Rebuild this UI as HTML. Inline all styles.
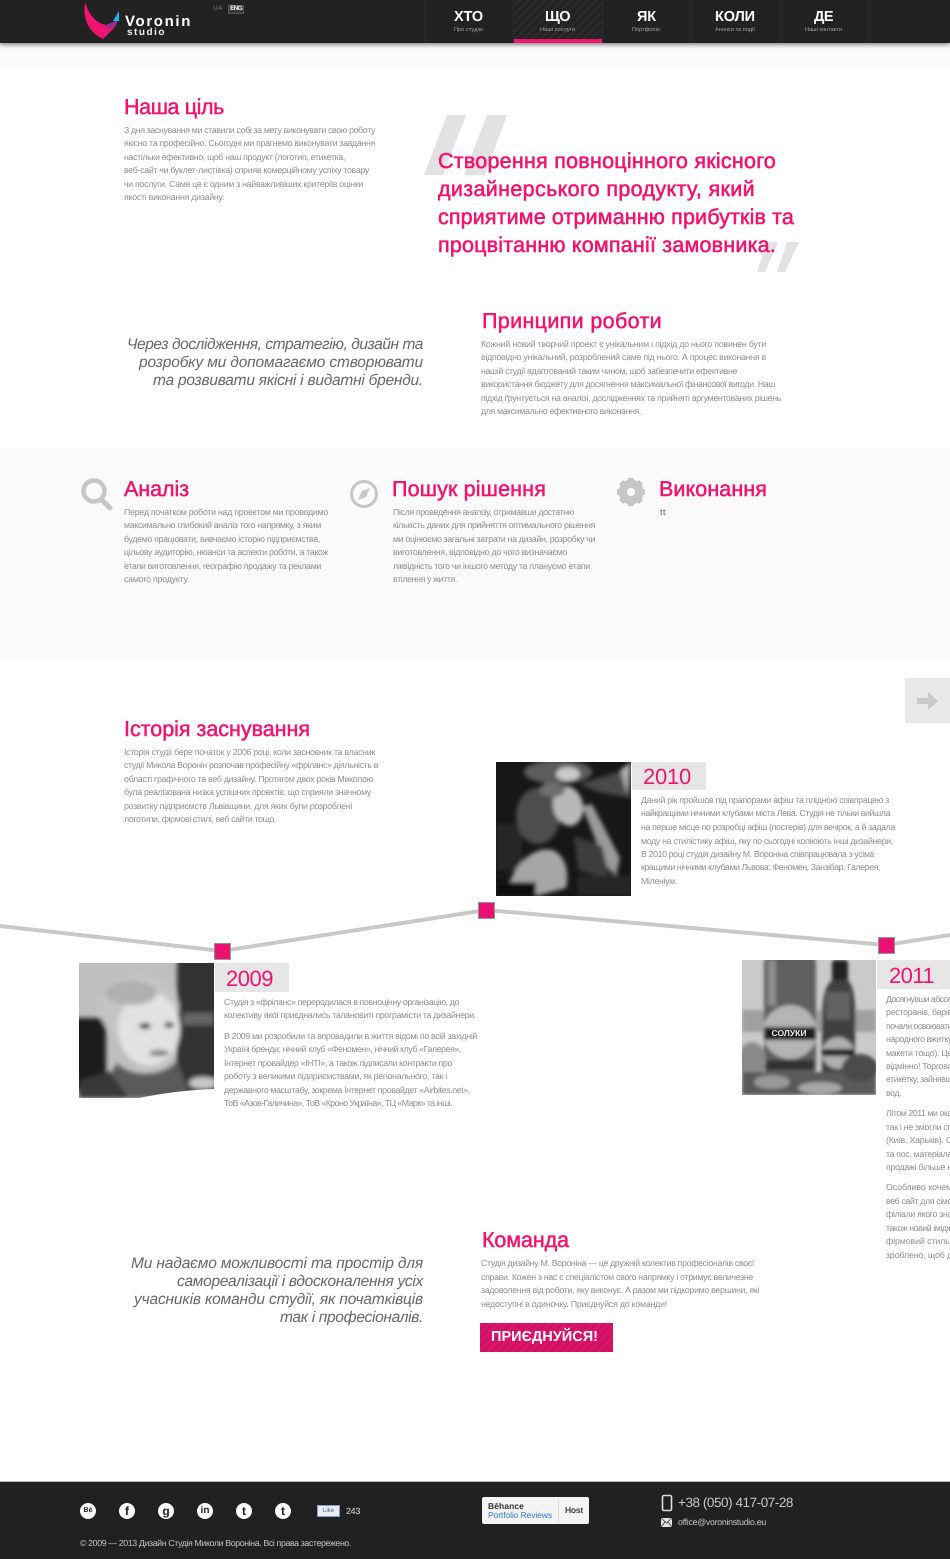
<!DOCTYPE html>
<html lang="uk">
<head>
<meta charset="utf-8">
<title>Voronin Studio</title>
<style>
html,body{margin:0;padding:0;background:#fff}
body{position:relative;width:950px;height:1559px;overflow:hidden;font-family:"Liberation Sans","DejaVu Sans",sans-serif;text-rendering:geometricPrecision}
.l{position:absolute;display:block;white-space:nowrap;line-height:16px;height:16px}
.b{font-size:8.8px;color:#8f8f8f}
.h{font-size:21.5px;color:#f5126f;-webkit-text-stroke:.5px #f5126f;line-height:26px;height:26px}
.q{font-size:21.5px;color:#f5126f;-webkit-text-stroke:.55px #f5126f;line-height:26px;height:26px}
.i{font-size:15.5px;font-style:italic;color:#686868;line-height:20px;height:20px}
.y{font-size:22px;color:#f5126f;line-height:28px;height:28px}
.abs{position:absolute;display:block}
.bg{position:absolute;left:0;width:950px}
.navb{font-size:14.5px;font-weight:bold;color:#fff}
.navs{font-size:5.5px;color:#aaa}
.f{color:#c4c4c4}
.sep{position:absolute;top:0;width:1px;height:43px;background:#2c2c2c}
.soc{position:absolute;top:1503px;width:16px;height:16px;border-radius:50%;background:#fff;color:#222;font-size:10px;font-weight:bold;line-height:16px;text-align:center}
.yb{position:absolute;background:#e6e6e6}
.m{position:absolute}
</style>
</head>
<body>

<div class="bg" style="top:43px;height:22px;background:#fafafa"></div>
<div class="bg" style="top:449px;height:210px;background:#fafafa"></div>

<header class="bg" style="top:0;height:43px;background:#222;box-shadow:0 2px 4px rgba(0,0,0,.45);z-index:2">
  <svg class="abs" style="left:80px;top:0" width="45" height="43">
    <path d="M5 2C2 20 10 33 23 39L35 27L26 25C16 23 9 15 5 2Z" fill="#ee1470"/>
    <path d="M26 25L38 20L35 27L27 29Z" fill="#9c2c94"/>
    <path d="M33 21L39 11L39 21Z" fill="#1db4e8"/>
  </svg>
  <span class="l" style="left:125px;top:14px;width:67px;font-size:15px;font-weight:bold;color:#fff">Voronin</span>
  <span class="l" style="left:127px;top:25px;width:39px;font-size:10px;font-weight:bold;color:#eee">studio</span>
  <span class="l" style="left:213px;top:1px;width:10px;font-size:6.5px;color:#777">UA</span>
  <span class="abs" style="left:228px;top:5px;width:16px;height:9px;background:#3a3a3a;border:0;outline:1px solid #555;outline-offset:-1px"></span>
  <span class="l" style="left:230px;top:1px;width:12px;font-size:6.5px;font-weight:bold;color:#eee">ENG</span>

  <div class="abs" style="left:514px;top:0;width:89px;height:43px;background:repeating-linear-gradient(135deg,#222 0 3px,#2a2a2a 3px 6px)"></div>
  <div class="abs" style="left:514px;top:39px;width:89px;height:4px;background:#ee1470"></div>
  <i class="sep" style="left:424px"></i><i class="sep" style="left:513px"></i><i class="sep" style="left:602px"></i><i class="sep" style="left:691px"></i><i class="sep" style="left:780px"></i><i class="sep" style="left:868px"></i>

  <nav>
    <a><span class="l navb" style="left:454px;top:9px;width:29px">ХТО</span><span class="l navs" style="left:454px;top:22px;width:29px">Про студію</span></a>
    <a><span class="l navb" style="left:545px;top:9px;width:25px">ЩО</span><span class="l navs" style="left:540px;top:22px;width:35px">Наші послуги</span></a>
    <a><span class="l navb" style="left:637px;top:9px;width:19px">ЯК</span><span class="l navs" style="left:632px;top:22px;width:28px">Портфоліо</span></a>
    <a><span class="l navb" style="left:715px;top:9px;width:40px">КОЛИ</span><span class="l navs" style="left:715px;top:22px;width:40px">Анонси та події</span></a>
    <a><span class="l navb" style="left:814px;top:9px;width:19px">ДЕ</span><span class="l navs" style="left:805px;top:22px;width:37px">Наші контакти</span></a>
  </nav>
</header>

<section>
  <h2 style="margin:0;font-weight:normal"><span class="l h" style="left:124px;top:94px;width:100px">Наша ціль</span></h2>
  <div>
    <span class="l b" style="left:124px;top:122px;width:251px">З дня заснування ми ставили собі за мету виконувати свою роботу</span>
    <span class="l b" style="left:124px;top:135px;width:251px">якісно та професійно. Сьогодні ми прагнемо виконувати завдання</span>
    <span class="l b" style="left:124px;top:149px;width:221px">настільки ефективно, щоб наш продукт (логотип, етикетка,</span>
    <span class="l b" style="left:124px;top:162px;width:245px">веб-сайт чи буклет-листівка) сприяв комерційному успіху товару</span>
    <span class="l b" style="left:124px;top:176px;width:239px">чи послуги. Саме це є одним з найважливіших критеріїв оцінки</span>
    <span class="l b" style="left:124px;top:189px;width:100px">якості виконання дизайну.</span>
  </div>
  <svg class="abs" style="left:420px;top:110px" width="385" height="170">
    <g fill="#e2e2e2">
      <polygon points="27,5 46,5 23,65 4,65"/>
      <polygon points="67,5 87,5 65,65 44,65"/>
      <polygon points="347,132 358,132 345,162 337,162"/>
      <polygon points="367,132 379,132 365,162 357,162"/>
    </g>
  </svg>
  <blockquote style="margin:0">
    <span class="l q" style="left:438px;top:148px;width:338px">Створення повноцінного якісного</span>
    <span class="l q" style="left:438px;top:176px;width:317px">дизайнерського продукту, який</span>
    <span class="l q" style="left:438px;top:204px;width:356px">сприятиме отриманню прибутків та</span>
    <span class="l q" style="left:438px;top:232px;width:338px">процвітанню компанії замовника.</span>
  </blockquote>
</section>

<section>
  <div>
    <span class="l i" style="left:127px;top:335px;width:296px">Через дослідження, стратегію, дизайн та</span>
    <span class="l i" style="left:139px;top:353px;width:284px">розробку ми допомагаємо створювати</span>
    <span class="l i" style="left:153px;top:371px;width:270px">та розвивати якісні і видатні бренди.</span>
  </div>
  <h2 style="margin:0;font-weight:normal"><span class="l h" style="left:482px;top:308px;width:180px">Принципи роботи</span></h2>
  <div>
    <span class="l b" style="left:481px;top:336px;width:285px">Кожний новий творчий проект є унікальним і підхід до нього повинен бути</span>
    <span class="l b" style="left:481px;top:349px;width:285px">відповідно унікальний, розроблений саме під нього. А процес виконання в</span>
    <span class="l b" style="left:481px;top:363px;width:256px">нашій студії адаптований таким чином, щоб забезпечити ефективне</span>
    <span class="l b" style="left:481px;top:376px;width:294px">використання бюджету для досягнення максимальної фінансової вигоди. Наш</span>
    <span class="l b" style="left:481px;top:390px;width:300px">підхід ґрунтується на аналізі, дослідженнях та прийняті аргументованих рішень</span>
    <span class="l b" style="left:481px;top:403px;width:160px">для максимально ефективного виконання.</span>
  </div>
</section>

<section>
  <svg class="abs" style="left:78px;top:476px" width="40" height="40">
    <circle cx="16" cy="15" r="10.5" fill="none" stroke="#c6c6c6" stroke-width="4.5"/>
    <line x1="24" y1="24" x2="32" y2="32" stroke="#c6c6c6" stroke-width="5" stroke-linecap="round"/>
  </svg>
  <h3 style="margin:0;font-weight:normal"><span class="l h" style="left:124px;top:476px;width:65px">Аналіз</span></h3>
  <div>
    <span class="l b" style="left:124px;top:504px;width:204px">Перед початком роботи над проектом ми проводимо</span>
    <span class="l b" style="left:124px;top:517px;width:197px">максимально глибокий аналіз того напрямку, з яким</span>
    <span class="l b" style="left:124px;top:531px;width:196px">будемо працювати, вивчаємо історію підприємства,</span>
    <span class="l b" style="left:124px;top:544px;width:204px">цільову аудиторію, нюанси та аспекти роботи, а також</span>
    <span class="l b" style="left:124px;top:558px;width:197px">етапи виготовлення, географію продажу та реклами</span>
    <span class="l b" style="left:124px;top:571px;width:65px">самого продукту.</span>
  </div>

  <svg class="abs" style="left:348px;top:478px" width="32" height="32">
    <circle cx="16" cy="16" r="12.5" fill="none" stroke="#c6c6c6" stroke-width="3"/>
    <polygon points="22,10 18,19 10,22 14,13" fill="#c6c6c6"/>
  </svg>
  <h3 style="margin:0;font-weight:normal"><span class="l h" style="left:392px;top:476px;width:154px">Пошук рішення</span></h3>
  <div>
    <span class="l b" style="left:393px;top:504px;width:181px">Після проведення аналізу, отримавши достатню</span>
    <span class="l b" style="left:393px;top:517px;width:202px">кількість даних для прийняття оптимального рішення</span>
    <span class="l b" style="left:393px;top:531px;width:202px">ми оцінюємо загальні затрати на дизайн, розробку чи</span>
    <span class="l b" style="left:393px;top:544px;width:174px">виготовлення, відповідно до чого визначаємо</span>
    <span class="l b" style="left:393px;top:558px;width:197px">ліквідність того чи іншого методу та плануємо етапи</span>
    <span class="l b" style="left:393px;top:571px;width:64px">втілення у життя.</span>
  </div>

  <svg class="abs" style="left:615px;top:476px" width="32" height="32">
    <circle cx="16" cy="16" r="9.5" fill="none" stroke="#c6c6c6" stroke-width="6"/>
    <g stroke="#c6c6c6" stroke-width="5.5">
      <line x1="16" y1="2" x2="16" y2="30"/>
      <line x1="2" y1="16" x2="30" y2="16"/>
      <line x1="6" y1="6" x2="26" y2="26"/>
      <line x1="26" y1="6" x2="6" y2="26"/>
    </g>
    <circle cx="16" cy="16" r="8" fill="#c6c6c6"/>
    <circle cx="16" cy="16" r="4" fill="#fafafa"/>
  </svg>
  <h3 style="margin:0;font-weight:normal"><span class="l h" style="left:659px;top:476px;width:108px">Виконання</span></h3>
  <span class="l b" style="left:660px;top:504px;width:6px;color:#555">tt</span>
</section>

<div class="abs" style="left:905px;top:678px;width:45px;height:45px;background:#e8e8e8">
  <svg width="45" height="45"><polygon points="12,20 23,20 23,14 33,23 23,32 23,26 12,26" fill="#c9c9c9"/></svg>
</div>

<section>
  <h2 style="margin:0;font-weight:normal"><span class="l h" style="left:124px;top:716px;width:186px">Історія заснування</span></h2>
  <div>
    <span class="l b" style="left:124px;top:744px;width:251px">Історія студії бере початок у 2006 році, коли засновник та власник</span>
    <span class="l b" style="left:124px;top:757px;width:254px">студії Микола Воронін розпочав професійну «фріланс» діяльність в</span>
    <span class="l b" style="left:124px;top:771px;width:249px">області графічного та веб дизайну. Протягом двох років Миколою</span>
    <span class="l b" style="left:124px;top:784px;width:247px">була реалізована низка успішних проектів, що сприяли значному</span>
    <span class="l b" style="left:124px;top:798px;width:228px">розвитку підприємств Львівщини, для яких були розроблені</span>
    <span class="l b" style="left:124px;top:811px;width:152px">логотипи, фірмові стилі, веб сайти тощо.</span>
  </div>

  <svg class="abs" style="left:0;top:895px" width="950" height="70">
    <polyline points="0,31 222,56 486,15 886,50 950,40" fill="none" stroke="#c8c8c8" stroke-width="4"/>
  </svg>
  <div class="m" style="left:214px;top:943px;width:15px;height:15px;background:#ea1270;border:1px solid #8d9a9a"></div>
  <div class="m" style="left:478px;top:902px;width:15px;height:15px;background:#ea1270;border:1px solid #8d9a9a"></div>
  <div class="m" style="left:878px;top:937px;width:15px;height:15px;background:#ea1270;border:1px solid #8d9a9a"></div>

  <svg class="abs" style="left:496px;top:762px" width="135" height="134">
    <defs>
      <filter id="b1" x="-20%" y="-20%" width="140%" height="140%"><feGaussianBlur stdDeviation="2.2"/></filter>
      <clipPath id="c1"><rect width="135" height="134"/></clipPath>
    </defs>
    <rect width="135" height="134" fill="#171717"/>
    <g clip-path="url(#c1)" filter="url(#b1)">
      <ellipse cx="62" cy="10" rx="34" ry="12" fill="#5c5c5c"/>
      <ellipse cx="72" cy="12" rx="12" ry="7" fill="#c8c8c8"/>
      <polygon points="84,22 135,6 135,36 102,30" fill="#4a4a4a"/>
      <polygon points="124,8 135,0 131,32" fill="#aaa"/>
      <rect x="0" y="62" width="26" height="46" fill="#272727"/>
      <ellipse cx="42" cy="54" rx="22" ry="28" fill="#4d4d4d"/>
      <ellipse cx="72" cy="44" rx="15" ry="20" transform="rotate(-12 72 44)" fill="#b8b8b8"/>
      <ellipse cx="56" cy="28" rx="13" ry="7" fill="#6e6e6e"/>
      <path d="M14 120C20 100 40 84 56 88C68 92 74 108 70 126L40 134L16 134Z" fill="#a6a6a6"/>
      <polygon points="86,44 96,42 124,96 120,114 110,104" fill="#9a9a9a"/>
      <polygon points="78,74 106,84 114,118 82,108" fill="#3e3e3e"/>
      <rect x="82" y="114" width="53" height="20" fill="#262626"/>
      <rect x="0" y="120" width="40" height="14" fill="#101010"/>
    </g>
  </svg>
  <div class="yb" style="left:632px;top:762px;width:74px;height:28px"></div>
  <span class="l y" style="left:643px;top:763px;width:48px">2010</span>
  <div>
    <span class="l b" style="left:641px;top:792px;width:248px">Даний рік пройшов під прапорами афіш та плідною співпрацею з</span>
    <span class="l b" style="left:641px;top:805px;width:249px">найкращими нічними клубами міста Лева. Студія не тільки вийшла</span>
    <span class="l b" style="left:641px;top:819px;width:254px">на перше місце по розробці афіш (постерів) для вечірок, а й задала</span>
    <span class="l b" style="left:641px;top:833px;width:252px">моду на стилістику афіш, яку по сьогодні копіюють інші дизайнери.</span>
    <span class="l b" style="left:641px;top:846px;width:233px">В 2010 році студія дизайну М. Вороніна співпрацювала з усіма</span>
    <span class="l b" style="left:641px;top:859px;width:239px">кращими нічними клубами Львова: Феномен, Занзібар, Галерея,</span>
    <span class="l b" style="left:641px;top:873px;width:36px">Міленіум.</span>
  </div>

  <svg class="abs" style="left:79px;top:963px" width="135" height="135">
    <defs>
      <filter id="b2" x="-20%" y="-20%" width="140%" height="140%"><feGaussianBlur stdDeviation="2.4"/></filter>
      <clipPath id="c2"><rect width="135" height="135"/></clipPath>
    </defs>
    <rect width="135" height="135" fill="#bfbfbf"/>
    <g clip-path="url(#c2)" filter="url(#b2)">
      <rect x="98" y="-5" width="42" height="145" fill="#333"/>
      <rect x="104" y="50" width="30" height="12" fill="#666"/>
      <rect x="-5" y="55" width="32" height="72" fill="#1e1e1e"/>
      <ellipse cx="60" cy="45" rx="40" ry="33" fill="#c4c4c4"/>
      <ellipse cx="70" cy="66" rx="31" ry="37" fill="#e2e2e2"/>
      <ellipse cx="52" cy="30" rx="26" ry="12" fill="#b0b0b0"/>
      <ellipse cx="66" cy="63" rx="6" ry="3" fill="#333"/>
      <ellipse cx="90" cy="62" rx="5" ry="3" fill="#444"/>
      <ellipse cx="80" cy="90" rx="10" ry="3" fill="#777"/>
      <path d="M38 100C50 115 85 115 98 98L112 135L18 135Z" fill="#5a5a5a"/>
      <path d="M0 118L30 108L50 135L0 135Z" fill="#383838"/>
      <ellipse cx="124" cy="120" rx="14" ry="6" fill="#c8c8c8"/>
    </g>
    <path d="M60 135Q100 127 135 126L135 135Z" fill="#fff"/>
  </svg>
  <div class="yb" style="left:215px;top:963px;width:74px;height:29px"></div>
  <span class="l y" style="left:226px;top:965px;width:47px">2009</span>
  <div>
    <span class="l b" style="left:224px;top:994px;width:235px">Студія з «фріланс» переродилася в повноцінну організацію, до</span>
    <span class="l b" style="left:224px;top:1007px;width:252px">колективу якої приєднались талановиті програмісти та дизайнери.</span>
    <span class="l b" style="left:224px;top:1028px;width:253px">В 2009 ми розробили та впровадили в життя відомі по всій західній</span>
    <span class="l b" style="left:224px;top:1041px;width:237px">Україні бренди: нічний клуб «Феномен», нічний клуб «Галерея»,</span>
    <span class="l b" style="left:224px;top:1055px;width:228px">Інтернет провайдер «ІНТІ», а також підписали контракти про</span>
    <span class="l b" style="left:224px;top:1068px;width:223px">роботу з великими підприємствами, як регіонального, так і</span>
    <span class="l b" style="left:224px;top:1082px;width:246px">державного масштабу, зокрема Інтернет провайдет «Airbites.net»,</span>
    <span class="l b" style="left:224px;top:1095px;width:228px">ТоВ «Азов-Галичина», ТоВ «Кроно Україна», ТЦ «Марк» та інші.</span>
  </div>

  <svg class="abs" style="left:742px;top:960px" width="134" height="135">
    <defs>
      <filter id="b3" x="-20%" y="-20%" width="140%" height="140%"><feGaussianBlur stdDeviation="1.8"/></filter>
      <clipPath id="c3"><rect width="134" height="135"/></clipPath>
    </defs>
    <rect width="134" height="135" fill="#cacaca"/>
    <g clip-path="url(#c3)" filter="url(#b3)">
      <rect y="50" width="134" height="22" fill="#a0a0a0"/>
      <rect x="22" y="-5" width="52" height="120" rx="8" fill="#5e5e5e"/>
      <rect x="26" y="0" width="8" height="46" fill="#8e8e8e"/>
      <circle cx="48" cy="72" r="27" fill="#b4b4b4"/>
      <rect x="22" y="67" width="52" height="13" fill="#1c1c1c"/>
      <rect x="24" y="100" width="48" height="10" fill="#333"/>
      <rect x="90" y="0" width="16" height="22" rx="3" fill="#222"/>
      <path d="M90 20C78 32 80 50 80 115L112 115C114 50 115 32 106 20Z" fill="#404040"/>
      <rect x="84" y="32" width="24" height="28" fill="#626262"/>
      <circle cx="96" cy="93" r="16" fill="#aeaeae"/>
      <rect x="80" y="89" width="32" height="7" fill="#222"/>
      <ellipse cx="10" cy="100" rx="14" ry="18" fill="#8a8a8a"/>
      <rect y="112" width="134" height="23" fill="#5a5a5a"/>
      <ellipse cx="30" cy="122" rx="18" ry="7" fill="#989898"/>
      <ellipse cx="78" cy="128" rx="22" ry="6" fill="#a6a6a6"/>
      <ellipse cx="118" cy="108" rx="18" ry="14" fill="#4c4c4c"/>
    </g>
    <text x="47" y="76" font-size="8.5" font-weight="bold" fill="#eee" text-anchor="middle" font-family="Liberation Sans, sans-serif">СОЛУКИ</text>
  </svg>
  <div class="yb" style="left:877px;top:960px;width:73px;height:29px"></div>
  <span class="l y" style="left:889px;top:962px;width:45px">2011</span>
  <div>
    <span class="l b" style="left:886px;top:991px;width:66px">Досягнувши абсол</span>
    <span class="l b" style="left:886px;top:1004px;width:66px">ресторанів, барів</span>
    <span class="l b" style="left:886px;top:1018px;width:66px">почали освоювати</span>
    <span class="l b" style="left:886px;top:1031px;width:66px">народного вжитку</span>
    <span class="l b" style="left:886px;top:1045px;width:66px">макети тощо). Це</span>
    <span class="l b" style="left:886px;top:1058px;width:66px">відмінно! Торгова</span>
    <span class="l b" style="left:886px;top:1071px;width:66px">етикетку, зайнявш</span>
    <span class="l b" style="left:886px;top:1085px;width:15px">вод.</span>
    <span class="l b" style="left:886px;top:1105px;width:66px">Літом 2011 ми ока</span>
    <span class="l b" style="left:886px;top:1119px;width:66px">так і не змогли сп</span>
    <span class="l b" style="left:886px;top:1132px;width:66px">(Київ, Харьків). С</span>
    <span class="l b" style="left:886px;top:1146px;width:66px">та пос. матеріала</span>
    <span class="l b" style="left:886px;top:1159px;width:66px">продажі більше н</span>
    <span class="l b" style="left:886px;top:1179px;width:66px">Особливо хочем</span>
    <span class="l b" style="left:886px;top:1193px;width:66px">веб сайт для сімо</span>
    <span class="l b" style="left:886px;top:1206px;width:66px">філіали якого зна</span>
    <span class="l b" style="left:886px;top:1220px;width:66px">також новий імідж</span>
    <span class="l b" style="left:886px;top:1233px;width:66px">фірмовий стиль,</span>
    <span class="l b" style="left:886px;top:1247px;width:66px">зроблено, щоб д</span>
  </div>
</section>

<section>
  <div>
    <span class="l i" style="left:131px;top:1254px;width:292px">Ми надаємо можливості та простір для</span>
    <span class="l i" style="left:177px;top:1272px;width:246px">самореалізації і вдосконалення усіх</span>
    <span class="l i" style="left:134px;top:1290px;width:289px">учасників команди студії, як початківців</span>
    <span class="l i" style="left:280px;top:1308px;width:143px">так і професіоналів.</span>
  </div>
  <h2 style="margin:0;font-weight:normal"><span class="l h" style="left:482px;top:1227px;width:87px">Команда</span></h2>
  <div>
    <span class="l b" style="left:481px;top:1255px;width:273px">Студія дизайну М. Вороніна — це дружній колектив професіоналів своєї</span>
    <span class="l b" style="left:481px;top:1269px;width:272px">справи. Кожен з нас є спеціалістом свого напрямку і отримує величезне</span>
    <span class="l b" style="left:481px;top:1282px;width:278px">задоволення від роботи, яку виконує. А разом ми підкоримо вершини, які</span>
    <span class="l b" style="left:481px;top:1296px;width:186px">недоступні в одиночку. Приєднуйся до команди!</span>
  </div>
  <div class="abs" style="left:480px;top:1323px;width:133px;height:29px;background:repeating-linear-gradient(135deg,#e0126c 0 3px,#c91563 3px 6px)">
    <span class="l" style="left:11px;top:6px;width:107px;font-size:14.5px;font-weight:bold;color:#fff">ПРИЄДНУЙСЯ!</span>
  </div>
</section>

<footer class="bg" style="top:1482px;height:77px;background:#212121;border-top:0;box-shadow:0 -1px 0 #bbb"></footer>
<div>
  <a class="soc" style="left:80px;font-size:7px">Bē</a>
  <a class="soc" style="left:119px;font-size:12px">f</a>
  <a class="soc" style="left:158px;font-size:12px">g</a>
  <a class="soc" style="left:197px;font-size:10px">in</a>
  <a class="soc" style="left:236px;font-size:12px">t</a>
  <a class="soc" style="left:275px;font-size:12px">t</a>
</div>
<div class="abs" style="left:317px;top:1505px;width:23px;height:12px;background:#e8ecf6;border:0;outline:1px solid #8a9ac0;outline-offset:-1px;color:#3b5998;font-size:6px;line-height:12px;text-align:center">Like</div>
<span class="l f" style="left:346px;top:1503px;width:14px;font-size:9px;color:#ddd">243</span>
<span class="l f" style="left:80px;top:1535px;width:271px;font-size:8.8px">© 2009 — 2013 Дизайн Студія Миколи Вороніна. Всі права застережено.</span>

<div class="abs" style="left:482px;top:1497px;width:107px;height:27px;background:#f4f4f4;border-radius:2px">
  <span class="abs" style="left:76px;top:2px;width:1px;height:23px;background:#ddd"></span>
  <span class="l" style="left:6px;top:1px;width:36px;font-size:8.5px;font-weight:bold;color:#333">Bēhance</span>
  <span class="l" style="left:6px;top:10px;width:64px;font-size:8.5px;color:#2a7de1">Portfolio Reviews</span>
  <span class="l" style="left:83px;top:5px;width:18px;font-size:8.5px;font-weight:bold;color:#444">Host</span>
</div>
<svg class="abs" style="left:660px;top:1494px" width="14" height="18"><rect x="2.5" y="1.5" width="9" height="15" rx="1.5" fill="none" stroke="#ddd" stroke-width="1.6"/></svg>
<span class="l" style="left:678px;top:1495px;width:115px;font-size:13.5px;color:#c8c8c8">+38 (050) 417-07-28</span>
<svg class="abs" style="left:661px;top:1518px" width="12" height="10"><rect width="11" height="9" fill="#e4e4e4"/><path d="M0 0L5.5 5L11 0M0 9L4 4M11 9L7 4" fill="none" stroke="#333" stroke-width=".8"/></svg>
<span class="l f" style="left:678px;top:1514px;width:88px;font-size:8.8px">office@voroninstudio.eu</span>

<script>
document.querySelectorAll('.l').forEach(function (el) {
  var target = parseFloat(el.style.width);
  if (!target) return;
  el.style.width = 'auto';
  el.style.display = 'inline-block';
  var natural = el.getBoundingClientRect().width;
  var chars = el.textContent.length;
  el.style.letterSpacing = ((target - natural) / chars).toFixed(3) + 'px';
  el.style.display = 'block';
});
</script>
</body>
</html>
